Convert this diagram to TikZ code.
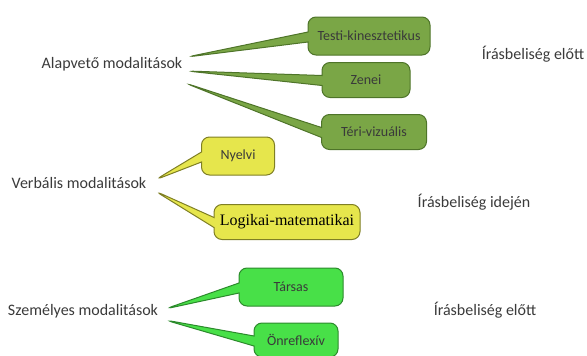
\documentclass[tikz,border=0pt]{standalone}
\usepackage{fontspec}
\setmainfont{Carlito}
\newfontfamily\logserif{Liberation Serif}
\usepackage{tikz}
\usetikzlibrary{shapes.callouts}
\definecolor{alapfill}{HTML}{7AA646}
\definecolor{alapline}{HTML}{4E7429}
\definecolor{verbfill}{HTML}{E6E64C}
\definecolor{verbline}{HTML}{7F7F24}
\definecolor{szemfill}{HTML}{48E048}
\definecolor{szemline}{HTML}{2C8A2C}
\definecolor{txt}{HTML}{3A3A3A}
\tikzstyle{modtext}=[font=\fontsize{16}{19}\selectfont,text=txt,inner sep=0pt]
\tikzstyle{callbox}=[rectangle callout,rounded corners=8pt,line width=1pt,callout pointer width=10pt,inner sep=0pt,font=\fontsize{14}{17}\selectfont,text=txt]
\tikzstyle{alapbox}=[callbox,fill=alapfill,draw=alapline]
\tikzstyle{verbbox}=[callbox,fill=verbfill,draw=verbline]
\tikzstyle{szembox}=[callbox,fill=szemfill,draw=szemline]

\begin{document}
\begin{tikzpicture}[x=1pt,y=-1pt]
\useasboundingbox (0,0) rectangle (587,356);
\node (Alap) [modtext] at (112,64) {Alapvető modalitások};
\node (Verb) [modtext] at (79,183) {Verbális modalitások};
\node (Szem) [modtext] at (83,311) {Személyes modalitások};
\node (Elott1) [modtext] at (533,54) {Írásbeliség előtt};
\node (Idejen) [modtext] at (474,202) {Írásbeliség idején};
\node (Elott2) [modtext] at (485,310) {Írásbeliség előtt};
\coordinate (a1) at (187,57);
\coordinate (a2) at (187,71);
\coordinate (a3) at (185,83);
\coordinate (v1) at (155,180);
\coordinate (v2) at (155,191);
\coordinate (s1) at (165,309);
\coordinate (s2) at (165,320);
\node (Testi) [alapbox,minimum width=122pt,minimum height=38pt,callout absolute pointer=(a1)] at (369,36) {Testi-kinesztetikus};
\node (Zenei) [alapbox,minimum width=88pt,minimum height=35pt,callout absolute pointer=(a2)] at (366,80) {Zenei};
\node (Teri) [alapbox,minimum width=105pt,minimum height=35pt,callout absolute pointer=(a3)] at (374,132) {Téri-vizuális};
\node (Nyelvi) [verbbox,minimum width=73pt,minimum height=38pt,callout absolute pointer=(v1)] at (238,156) {Nyelvi};
\node (Logikai) [verbbox,minimum width=146pt,minimum height=35pt,callout absolute pointer=(v2),font=\logserif\fontsize{16}{19}\selectfont,text=black] at (287,222) {Logikai-matematikai};
\node (Tarsas) [szembox,minimum width=104pt,minimum height=38pt,callout absolute pointer=(s1)] at (291,287) {Társas};
\node (Onref) [szembox,minimum width=84pt,minimum height=34pt,callout absolute pointer=(s2)] at (296,340) {Önreflexív};
\end{tikzpicture}
\end{document}
